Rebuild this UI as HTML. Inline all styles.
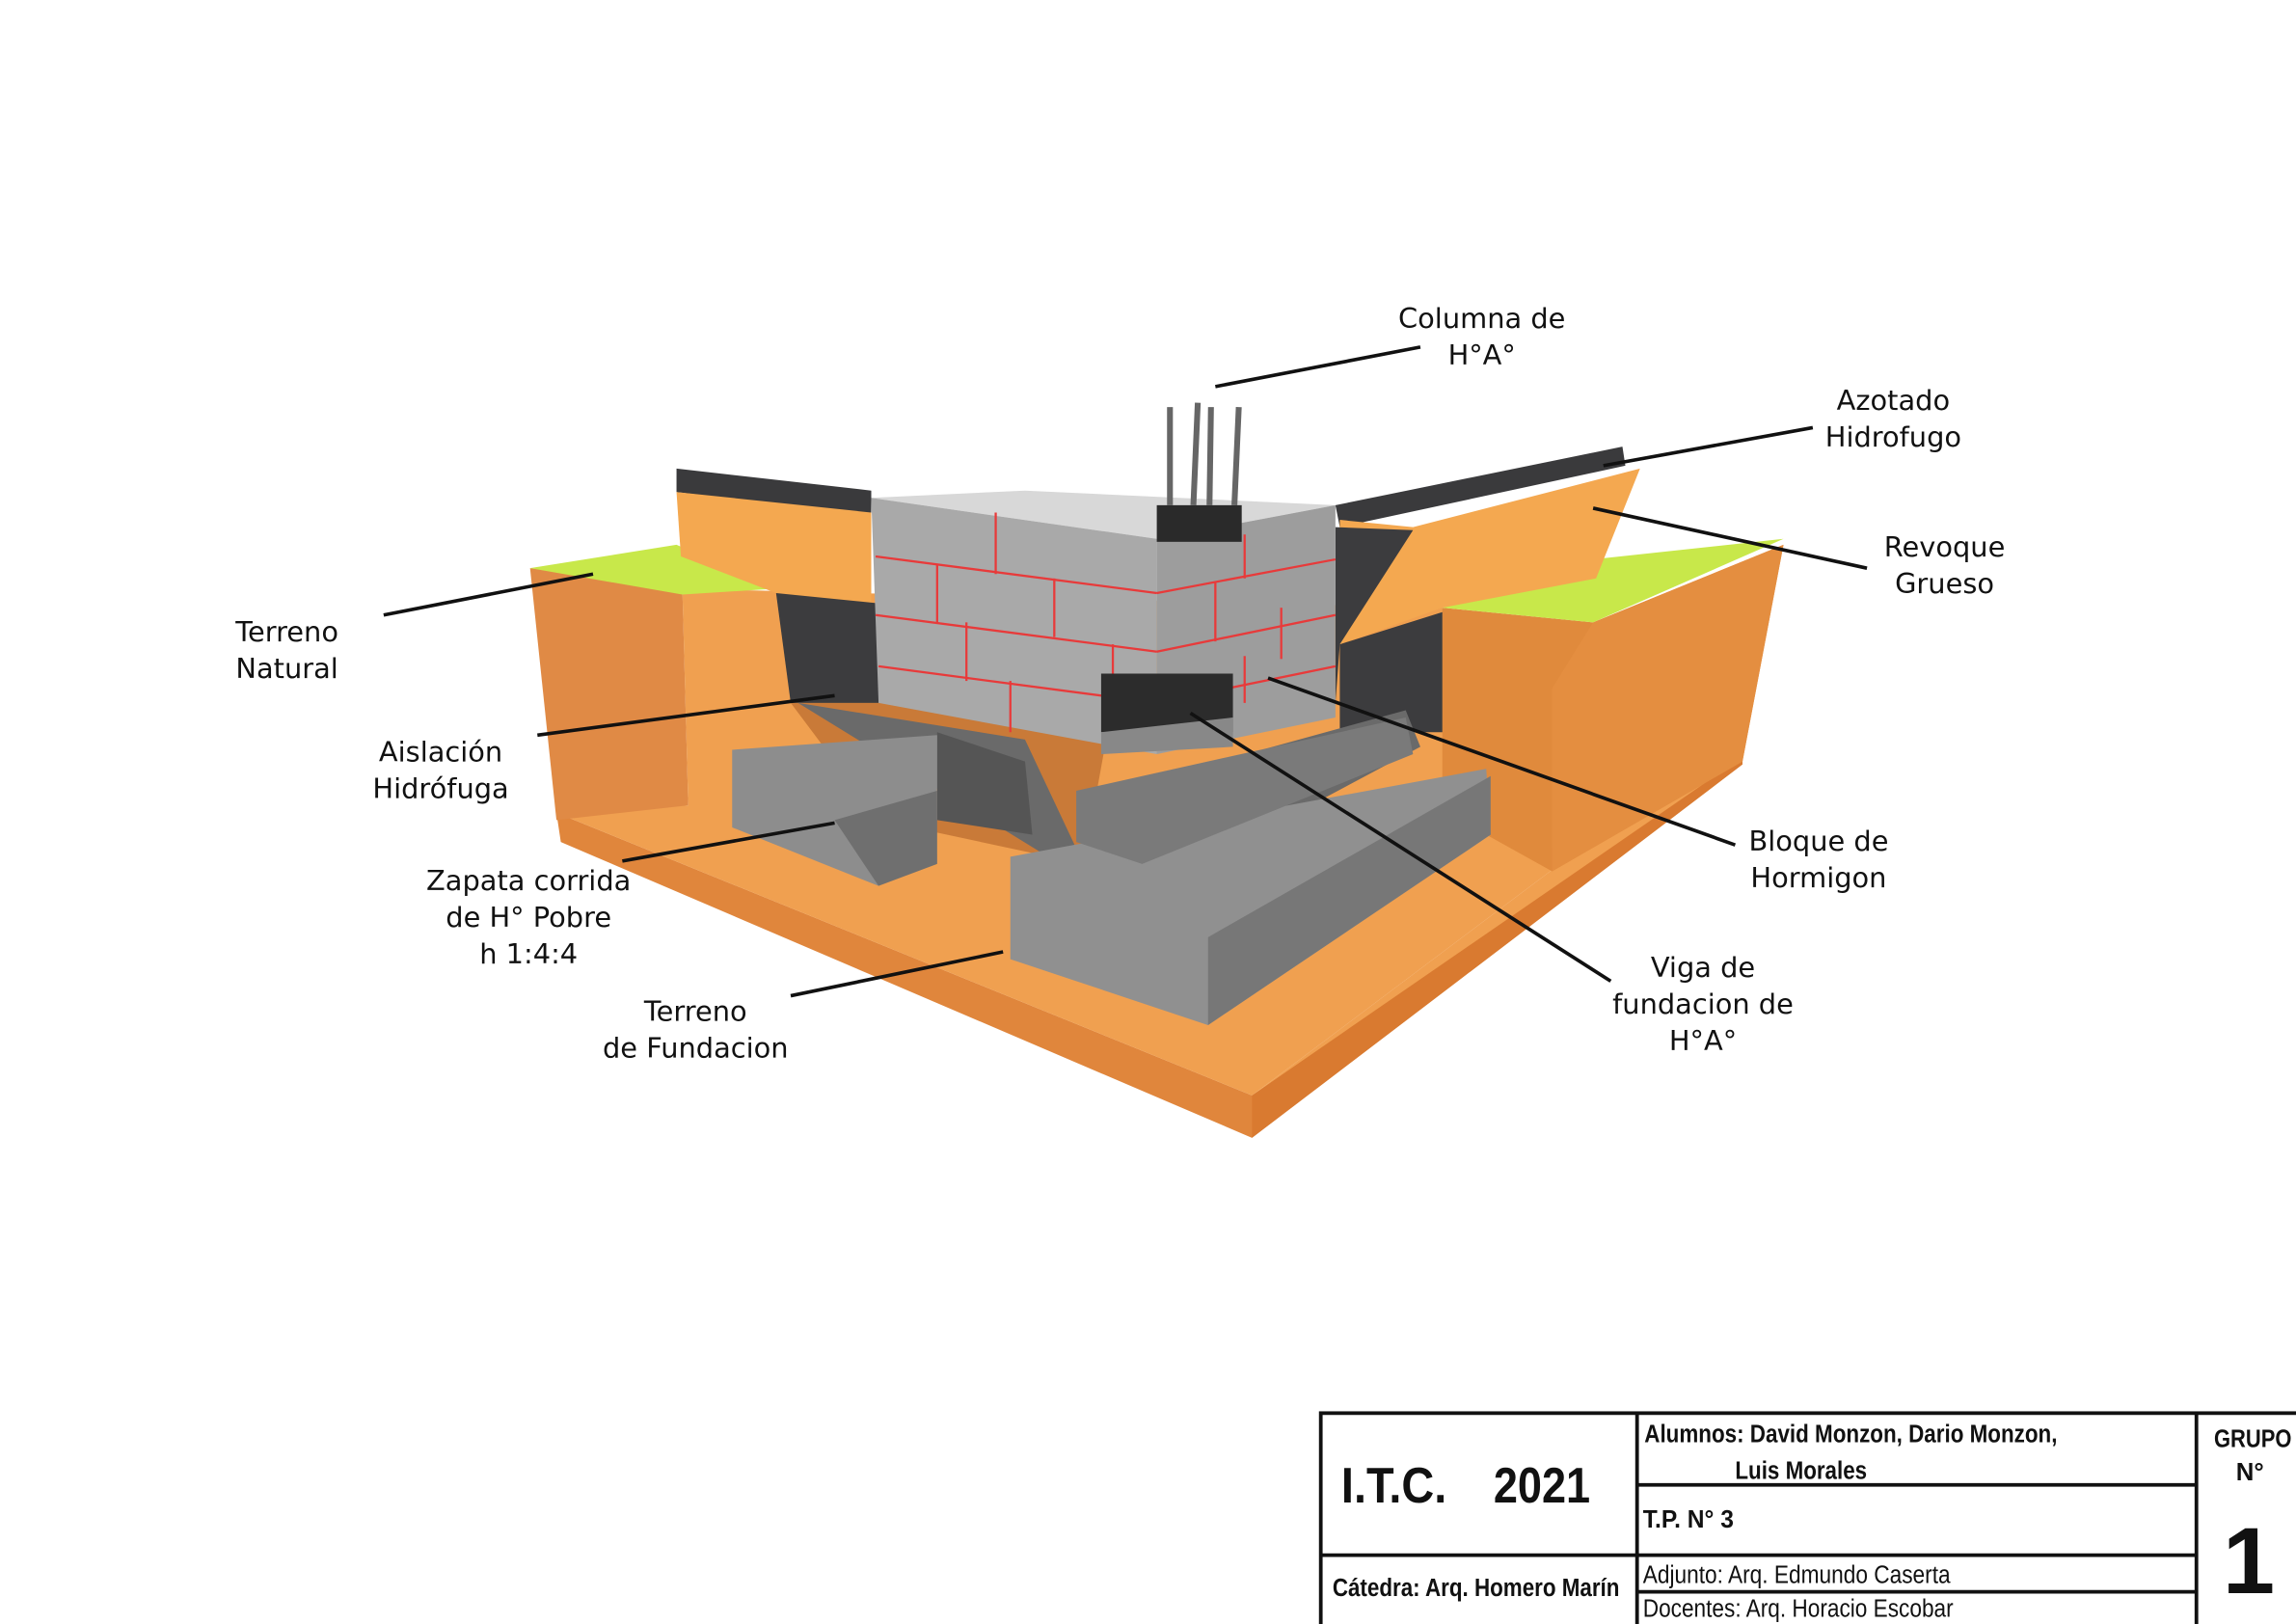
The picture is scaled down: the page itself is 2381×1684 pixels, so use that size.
<!DOCTYPE html>
<html><head><meta charset="utf-8"><style>
html,body{margin:0;padding:0;background:#fff}
svg{display:block}
.l{font-family:"DejaVu Sans","Liberation Sans",sans-serif;font-size:19px;fill:#111}
.t{font-family:"Liberation Sans",sans-serif;font-weight:bold;fill:#111}
</style></head><body>
<svg width="2381" height="1684" viewBox="0 0 1568 1109" xmlns="http://www.w3.org/2000/svg">
<rect width="1568" height="1109" fill="#fff"/>
<!-- base slab -->
<polygon points="380,555 855,748 1190,515 1190,522 855,777 383,575" fill="#e0863c"/>
<polygon points="855,748 1190,515 1190,522 855,777" fill="#d97a30"/>
<polygon points="466,402 985,415 1060,594 855,748 380,555 470,550" fill="#f0a050"/>
<polygon points="855,748 1060,594 1190,517" fill="#f0a050"/>
<polygon points="540,480 760,480 740,590 600,560" fill="#c97a38"/>
<!-- left soil block -->
<polygon points="362,388 466,402 470,550 380,560" fill="#e08a45"/>
<polygon points="362,388 462,372 530,402 466,406" fill="#c8e84a"/>
<!-- right soil block -->
<polygon points="985,415 1088,425 1218,372 1190,520 1060,595 1015,570 985,540" fill="#e08a3c"/>
<polygon points="1088,425 1218,372 1190,520 1060,595 1060,470" fill="#e48e40"/>
<polygon points="985,415 1060,385 1218,368 1088,425" fill="#c8e84a"/>
<!-- back walls -->
<polygon points="462,320 595,335 595,352 462,336" fill="#3a3a3c"/>
<polygon points="462,336 595,350 595,412 530,405 465,380" fill="#f4a850"/>
<polygon points="530,405 600,412 600,480 540,480" fill="#3c3c3e"/>
<polygon points="912,345 1108,305 1110,318 915,360" fill="#3a3a3c"/>
<polygon points="915,355 965,360 1120,320 1090,395 985,415 915,440" fill="#f4a850"/>
<polygon points="912,360 965,362 915,440 912,480" fill="#3c3c3e"/>
<polygon points="915,440 985,418 985,500 915,500" fill="#3c3c3e"/>
<polygon points="595,340 700,335 912,345 790,368" fill="#d8d8d8"/>
<!-- stone back -->
<polygon points="545,480 700,505 740,590 760,540 960,485 970,510 820,590 740,600" fill="#6a6a6a"/>
<polygon points="640,500 700,520 705,570 640,560" fill="#555"/>
<!-- block wall -->
<polygon points="595,340 790,368 790,515 600,480" fill="#a9a9a9"/>
<polygon points="790,368 912,345 912,490 790,515" fill="#9d9d9d"/>
<g stroke="#e83a3a" stroke-width="1.5" fill="none">
<line x1="598" y1="380" x2="790" y2="405"/><line x1="598" y1="420" x2="790" y2="445"/><line x1="600" y1="455" x2="790" y2="480"/>
<line x1="790" y1="405" x2="912" y2="382"/><line x1="790" y1="445" x2="912" y2="420"/><line x1="790" y1="480" x2="912" y2="455"/>
<line x1="680" y1="350" x2="680" y2="392"/><line x1="640" y1="385" x2="640" y2="425"/><line x1="720" y1="395" x2="720" y2="435"/><line x1="660" y1="425" x2="660" y2="465"/><line x1="760" y1="440" x2="760" y2="475"/><line x1="690" y1="465" x2="690" y2="500"/>
<line x1="850" y1="365" x2="850" y2="395"/><line x1="830" y1="398" x2="830" y2="438"/><line x1="875" y1="415" x2="875" y2="450"/><line x1="850" y1="448" x2="850" y2="480"/>
</g>
<!-- viga -->
<rect x="752" y="460" width="90" height="40" fill="#2c2c2c"/>
<polygon points="752,500 842,490 842,510 752,515" fill="#888"/>
<!-- column -->
<rect x="790" y="345" width="58" height="25" fill="#2a2a2a"/>
<g stroke="#666" stroke-width="4"><line x1="799" y1="278" x2="799" y2="345"/><line x1="818" y1="275" x2="815" y2="345"/><line x1="827" y1="278" x2="826" y2="345"/><line x1="846" y1="278" x2="843" y2="345"/></g>
<!-- stone footings -->
<polygon points="500,512 640,502 640,560 600,605 500,565" fill="#8d8d8d"/>
<polygon points="570,560 640,540 640,590 600,605" fill="#6f6f6f"/>
<polygon points="690,585 1015,525 1018,570 825,700 690,655" fill="#909090"/>
<polygon points="825,640 1018,530 1018,570 825,700" fill="#777"/>
<polygon points="735,540 960,490 965,515 780,590 735,575" fill="#7a7a7a"/>
<!-- leader lines -->
<g stroke="#111" stroke-width="2.4">
<line x1="830" y1="264" x2="970" y2="237"/>
<line x1="1095" y1="318" x2="1238" y2="292"/>
<line x1="1088" y1="347" x2="1275" y2="388"/>
<line x1="262" y1="420" x2="405" y2="392"/>
<line x1="367" y1="502" x2="570" y2="475"/>
<line x1="425" y1="588" x2="570" y2="562"/>
<line x1="540" y1="680" x2="685" y2="650"/>
<line x1="866" y1="463" x2="1185" y2="577"/>
<line x1="813" y1="487" x2="1100" y2="670"/>
</g>
<g class="l" text-anchor="middle">
<text x="1012" y="224">Columna de</text><text x="1012" y="249">H°A°</text>
<text x="1293" y="280">Azotado</text><text x="1293" y="305">Hidrofugo</text>
<text x="1328" y="380">Revoque</text><text x="1328" y="405">Grueso</text>
<text x="196" y="438">Terreno</text><text x="196" y="463">Natural</text>
<text x="301" y="520">Aislación</text><text x="301" y="545">Hidrófuga</text>
<text x="361" y="608">Zapata corrida</text><text x="361" y="633">de H° Pobre</text><text x="361" y="658">h 1:4:4</text>
<text x="475" y="697">Terreno</text><text x="475" y="722">de Fundacion</text>
<text x="1242" y="581">Bloque de</text><text x="1242" y="606">Hormigon</text>
<text x="1163" y="667">Viga de</text><text x="1163" y="692">fundacion de</text><text x="1163" y="717">H°A°</text>
</g>
<!-- title block -->
<g stroke="#111" stroke-width="2.5" fill="none">
<rect x="902" y="965" width="668" height="146"/>
<line x1="1118" y1="965" x2="1118" y2="1111"/><line x1="1500" y1="965" x2="1500" y2="1111"/>
<line x1="1118" y1="1014" x2="1500" y2="1014"/><line x1="902" y1="1062" x2="1500" y2="1062"/><line x1="1118" y1="1087" x2="1500" y2="1087"/>
</g>
<g class="t">
<text x="916" y="1026" font-size="34" textLength="72" lengthAdjust="spacingAndGlyphs">I.T.C.</text>
<text x="1020" y="1026" font-size="34" textLength="66" lengthAdjust="spacingAndGlyphs">2021</text>
<text x="1123" y="985" font-size="17" textLength="282" lengthAdjust="spacingAndGlyphs">Alumnos: David Monzon, Dario Monzon,</text>
<text x="1185" y="1010" font-size="17" textLength="90" lengthAdjust="spacingAndGlyphs">Luis Morales</text>
<text x="1122" y="1043" font-size="17" textLength="62" lengthAdjust="spacingAndGlyphs">T.P. N° 3</text>
<text x="910" y="1090" font-size="17" textLength="196" lengthAdjust="spacingAndGlyphs">Cátedra: Arq. Homero Marín</text>
<text x="1122" y="1081" font-size="17" font-weight="normal" textLength="210" lengthAdjust="spacingAndGlyphs">Adjunto: Arq. Edmundo Caserta</text>
<text x="1122" y="1104" font-size="17" font-weight="normal" textLength="212" lengthAdjust="spacingAndGlyphs">Docentes: Arq. Horacio Escobar</text>
<text x="1512" y="988" font-size="17" textLength="53" lengthAdjust="spacingAndGlyphs">GRUPO</text>
<text x="1527" y="1011" font-size="17">N°</text>
<text x="1518" y="1088" font-size="64">1</text>
</g>
</svg>
</body></html>
